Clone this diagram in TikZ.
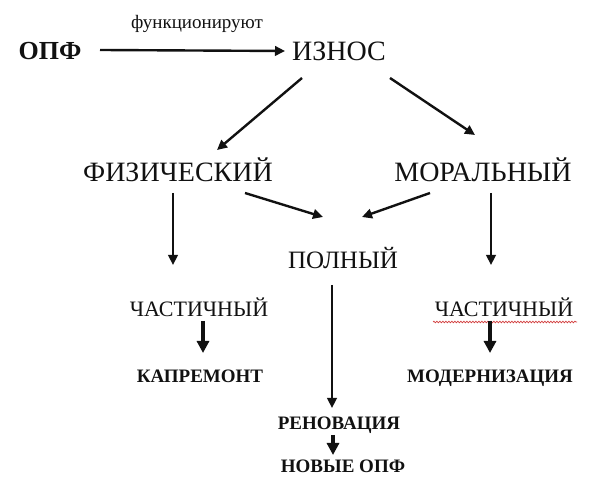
\documentclass[tikz,border=0pt]{standalone}
\usepackage{fontspec}
\setmainfont{Liberation Serif}
\usetikzlibrary{arrows.meta,decorations.pathmorphing}
\definecolor{ink}{HTML}{111111}
\definecolor{squiggle}{HTML}{D23C3C}
\tikzset{
  every node/.style={text=ink,inner sep=0pt,anchor=base},
  big/.style={font=\fontsize{28}{30}\selectfont},
  mid/.style={font=\fontsize{22}{24}\selectfont},
  strong/.style={font=\bfseries\fontsize{19}{21}\selectfont},
  flow/.style={-{Triangle[length=10pt,width=9.5pt]},line width=2.4pt,draw=ink},
  stub/.style={-{Triangle[length=12pt,width=12pt]},line width=3.2pt,draw=ink},
}

\begin{document}
\begin{tikzpicture}[x=1pt,y=1pt]
\path[use as bounding box] (0,0) rectangle (615,481);
\fill[white] (0,0) rectangle (615,481);
% Top line: the funds at work wear out.
\node[font=\bfseries\fontsize{26}{28}\selectfont] (opf) at (50,421) {ОПФ};
\node[font=\fontsize{19}{21}\selectfont] (work) at (197,452) {функционируют};
\node[big] (wear) at (339,420) {ИЗНОС};
\draw[flow] ([shift={(50,10)}]opf.base) -- ([shift={(-54,10)}]wear.base);
% Two kinds of wear, both may be full.
\node[big] (phys) at (178,299) {ФИЗИЧЕСКИЙ};
\node[big] (moral) at (483,299) {МОРАЛЬНЫЙ};
\node[font=\fontsize{25}{27}\selectfont] (full) at (343,212) {ПОЛНЫЙ};
\draw[flow] ([shift={(-37,-17)}]wear.base) -- ([shift={(39,32)}]phys.base);
\draw[flow] ([shift={(51,-17)}]wear.base) -- ([shift={(-8,47)}]moral.base);
\draw[flow] ([shift={(67,-11)}]phys.base) -- ([shift={(-20,52)}]full.base);
\draw[flow] ([shift={(-53,-11)}]moral.base) -- ([shift={(19,52)}]full.base);
% Partial wear and what is done about it.
\node[mid] (partl) at (199,164) {ЧАСТИЧНЫЙ};
\node[mid] (partr) at (504,164) {ЧАСТИЧНЫЙ};
\draw[draw=squiggle,line width=.7pt,decorate,decoration={snake,amplitude=.8pt,segment length=3pt}]
  ([shift={(-71,-5)}]partr.base) -- ([shift={(73,-5)}]partr.base);
\draw[flow] ([shift={(-5,-11)}]phys.base) -- ([shift={(-26,52)}]partl.base);
\draw[flow] ([shift={(8,-11)}]moral.base) -- ([shift={(-13,52)}]partr.base);
\node[strong] (repair) at (200,98) {КАПРЕМОНТ};
\node[strong] (modern) at (490,98) {МОДЕРНИЗАЦИЯ};
\draw[stub] ([shift={(4,-4)}]partl.base) -- ([shift={(3,30)}]repair.base);
\draw[stub] ([shift={(-14,-4)}]partr.base) -- ([shift={(0,30)}]modern.base);
% Full wear ends in replacement.
\node[strong] (renov) at (339,51) {РЕНОВАЦИЯ};
\node[strong] (newopf) at (343,8) {НОВЫЕ ОПФ};
\draw[flow] ([shift={(-11,-16)}]full.base) -- ([shift={(-7,22)}]renov.base);
\draw[stub] ([shift={(-6,-5)}]renov.base) -- ([shift={(-10,18)}]newopf.base);
\end{tikzpicture}
\end{document}
